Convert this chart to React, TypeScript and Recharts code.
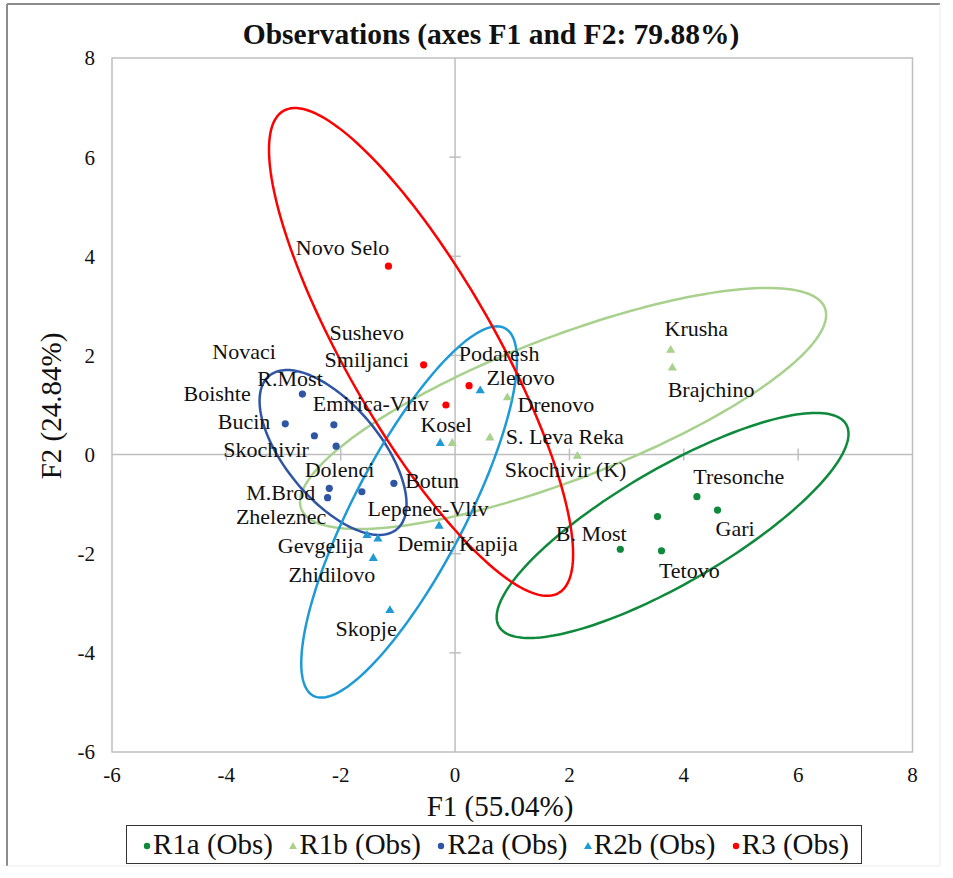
import React from 'react';
import { ScatterChart, Scatter, XAxis, YAxis, ReferenceLine, ReferenceArea } from 'recharts';

// ---------- data ----------
const X_TICKS = [-6, -4, -2, 0, 2, 4, 6, 8];
const Y_TICKS = [-6, -4, -2, 0, 2, 4, 6, 8];

const R1A = [
  { x: 4.23, y: -0.85 },
  { x: 4.59, y: -1.12 },
  { x: 3.54, y: -1.25 },
  { x: 2.89, y: -1.91 },
  { x: 3.61, y: -1.94 },
];
const R1B = [
  { x: 3.77, y: 2.12 },
  { x: 3.8, y: 1.76 },
  { x: 2.14, y: -0.02 },
  { x: 0.61, y: 0.35 },
  { x: 0.915, y: 1.16 },
  { x: -0.05, y: 0.24 },
];
const R2A = [
  { x: -2.67, y: 1.22 },
  { x: -2.97, y: 0.62 },
  { x: -2.12, y: 0.6 },
  { x: -2.46, y: 0.38 },
  { x: -2.08, y: 0.17 },
  { x: -2.2, y: -0.68 },
  { x: -2.23, y: -0.87 },
  { x: -1.63, y: -0.75 },
  { x: -1.07, y: -0.58 },
];
const R2B = [
  { x: 0.44, y: 1.3 },
  { x: -0.26, y: 0.24 },
  { x: -0.28, y: -1.43 },
  { x: -1.54, y: -1.62 },
  { x: -1.35, y: -1.69 },
  { x: -1.43, y: -2.08 },
  { x: -1.14, y: -3.13 },
];
const R3 = [
  { x: -1.165, y: 3.8 },
  { x: -0.55, y: 1.81 },
  { x: 0.245, y: 1.39 },
  { x: -0.16, y: 1.0 },
];

const OBS_LABELS = [
  { txt: 'Novo Selo', x: -1.967, y: 4.182 },
  { txt: 'Sushevo', x: -1.544, y: 2.459 },
  { txt: 'Smiljanci', x: -1.544, y: 1.908 },
  { txt: 'Novaci', x: -3.69, y: 2.076 },
  { txt: 'R.Most', x: -2.886, y: 1.525 },
  { txt: 'Boishte', x: -4.162, y: 1.223 },
  { txt: 'Emirica-Vliv', x: -1.473, y: 1.035 },
  { txt: 'Bucin', x: -3.69, y: 0.664 },
  { txt: 'Skochivir', x: -3.305, y: 0.107 },
  { txt: 'Dolenci', x: -2.02, y: -0.311 },
  { txt: 'Botun', x: -0.402, y: -0.533 },
  { txt: 'M.Brod', x: -3.047, y: -0.769 },
  { txt: 'Lepenec-Vliv', x: -0.472, y: -1.083 },
  { txt: 'Zheleznec', x: -3.043, y: -1.253 },
  { txt: 'Gevgelija', x: -2.352, y: -1.844 },
  { txt: 'Demir Kapija', x: 0.044, y: -1.789 },
  { txt: 'Zhidilovo', x: -2.156, y: -2.429 },
  { txt: 'Skopje', x: -1.556, y: -3.504 },
  { txt: 'Podaresh', x: 0.77, y: 2.044 },
  { txt: 'Zletovo', x: 1.146, y: 1.559 },
  { txt: 'Drenovo', x: 1.763, y: 1.015 },
  { txt: 'Kosel', x: -0.157, y: 0.597 },
  { txt: 'S. Leva Reka', x: 1.919, y: 0.361 },
  { txt: 'Skochivir (K)', x: 1.933, y: -0.311 },
  { txt: 'Krusha', x: 4.22, y: 2.548 },
  { txt: 'Brajchino', x: 4.477, y: 1.317 },
  { txt: 'Tresonche', x: 4.962, y: -0.446 },
  { txt: 'Gari', x: 4.897, y: -1.487 },
  { txt: 'B. Most', x: 2.382, y: -1.588 },
  { txt: 'Tetovo', x: 4.096, y: -2.342 },
];

// confidence ellipses: centre and two conjugate semi-diameter vectors (data units)
const ELL_R1A = { cx: 3.804, cy: -1.43, px: 3.036, py: 2.038, qx: 0.5, qy: -1.0 };
const ELL_R1B = { cx: 1.889, cy: 0.93, px: 4.579, py: 2.027, qx: 0.448, qy: -1.343 };
const ELL_R2A = { cx: -2.134, cy: 0.042, px: 1.116, py: -1.547, qx: 0.637, qy: 0.611 };
const ELL_R2B = { cx: -0.804, cy: -1.158, px: 1.674, py: 3.708, qx: 0.869, qy: -0.522 };
const ELL_R3 = { cx: -0.595, cy: 2.07, px: 2.405, py: -4.864, qx: 1.135, qy: 0.746 };

const SERIES_NAMES = ['R1a (Obs)', 'R1b (Obs)', 'R2a (Obs)', 'R2b (Obs)', 'R3 (Obs)'];

// ---------- styles ----------
const C_R1A = '#0f8a3c';
const C_R1B = '#a9d18e';
const C_R2A = '#2f55a4';
const C_R2B = '#1e9ad6';
const C_R3 = '#ff0000';
const GRID = '#bfbfbf';
const FONT = "'Liberation Serif', 'Times New Roman', Times, serif";

const SERIES_STYLE = [
  { color: C_R1A, marker: 'circle' },
  { color: C_R1B, marker: 'triangle' },
  { color: C_R2A, marker: 'circle' },
  { color: C_R2B, marker: 'triangle' },
  { color: C_R3, marker: 'circle' },
];

function ellipsePoints(e: { cx: number; cy: number; px: number; py: number; qx: number; qy: number }) {
  const pts: { x: number; y: number }[] = [];
  const n = 180;
  for (let i = 0; i <= n; i++) {
    const t = (2 * Math.PI * i) / n;
    pts.push({
      x: e.cx + e.px * Math.cos(t) + e.qx * Math.sin(t),
      y: e.cy + e.py * Math.cos(t) + e.qy * Math.sin(t),
    });
  }
  return pts;
}

const EmptyShape = () => <g />;

const circleShape = (color: string) => (props: any) =>
  <circle cx={props.cx} cy={props.cy} r={3.6} fill={color} />;

const triangleShape = (color: string) => (props: any) => {
  const { cx, cy } = props;
  const s = 4.6;
  return <polygon points={`${cx},${cy - s} ${cx + s},${cy + s * 0.7} ${cx - s},${cy + s * 0.7}`} fill={color} />;
};

const labelShape = (props: any) => {
  const txt = props.payload ? props.payload.txt : props.txt;
  return (
    <text x={props.cx} y={props.cy} dy="0.33em" textAnchor="middle" fontFamily={FONT} fontSize={22} fill="#111">
      {txt}
    </text>
  );
};

const LegendMarker = ({ color, marker }: { color: string; marker: string }) => (
  <svg width={11} height={12} style={{ marginRight: 1 }}>
    {marker === 'circle' ? (
      <circle cx={6} cy={7} r={3.2} fill={color} />
    ) : (
      <polygon points="6,3 10,10 2,10" fill={color} />
    )}
  </svg>
);

export default function App() {
  const tickStyle = { fontFamily: FONT, fontSize: 21, fill: '#111' };
  return (
    <div style={{ position: 'absolute', left: 0, top: 0, width: 953, height: 878, background: '#fff' }}>
      <ScatterChart width={953} height={878} margin={{ top: 58, right: 40.5, bottom: 86, left: 52 }}>
        <XAxis
          type="number"
          dataKey="x"
          domain={[-6, 8]}
          ticks={X_TICKS}
          allowDataOverflow
          axisLine={false}
          tickLine={false}
          tickMargin={9}
          height={40}
          tick={tickStyle}
          interval={0}
        />
        <YAxis
          type="number"
          dataKey="y"
          domain={[-6, 8]}
          ticks={Y_TICKS}
          allowDataOverflow
          axisLine={false}
          tickLine={false}
          tickMargin={11}
          width={60}
          tick={tickStyle}
          interval={0}
        />
        <ReferenceArea x1={-6} x2={8} y1={-6} y2={8} fill="none" fillOpacity={0} stroke={GRID} strokeWidth={1.5} />
        <ReferenceLine x={0} stroke={GRID} strokeWidth={1.5} />
        <ReferenceLine y={0} stroke={GRID} strokeWidth={1.5} />
        {Y_TICKS.filter((t) => t !== 0 && t !== -6 && t !== 8).map((t) => (
          <ReferenceLine key={'yt' + t} segment={[{ x: -0.1, y: t }, { x: 0.1, y: t }]} stroke={GRID} strokeWidth={1.5} />
        ))}
        {X_TICKS.filter((t) => t !== 0 && t !== -6 && t !== 8).map((t) => (
          <ReferenceLine key={'xt' + t} segment={[{ x: t, y: -0.12 }, { x: t, y: 0.12 }]} stroke={GRID} strokeWidth={1.5} />
        ))}

        <Scatter data={ellipsePoints(ELL_R1B)} line={{ stroke: C_R1B, strokeWidth: 2.5 }} lineType="joint" shape={EmptyShape} isAnimationActive={false} legendType="none" />
        <Scatter data={ellipsePoints(ELL_R1A)} line={{ stroke: C_R1A, strokeWidth: 2.5 }} lineType="joint" shape={EmptyShape} isAnimationActive={false} legendType="none" />
        <Scatter data={ellipsePoints(ELL_R2A)} line={{ stroke: C_R2A, strokeWidth: 2.5 }} lineType="joint" shape={EmptyShape} isAnimationActive={false} legendType="none" />
        <Scatter data={ellipsePoints(ELL_R2B)} line={{ stroke: C_R2B, strokeWidth: 2.5 }} lineType="joint" shape={EmptyShape} isAnimationActive={false} legendType="none" />
        <Scatter data={ellipsePoints(ELL_R3)} line={{ stroke: C_R3, strokeWidth: 2.5 }} lineType="joint" shape={EmptyShape} isAnimationActive={false} legendType="none" />

        <Scatter name={SERIES_NAMES[0]} data={R1A} shape={circleShape(C_R1A)} isAnimationActive={false} />
        <Scatter name={SERIES_NAMES[1]} data={R1B} shape={triangleShape(C_R1B)} isAnimationActive={false} />
        <Scatter name={SERIES_NAMES[2]} data={R2A} shape={circleShape(C_R2A)} isAnimationActive={false} />
        <Scatter name={SERIES_NAMES[3]} data={R2B} shape={triangleShape(C_R2B)} isAnimationActive={false} />
        <Scatter name={SERIES_NAMES[4]} data={R3} shape={circleShape(C_R3)} isAnimationActive={false} />

        <Scatter data={OBS_LABELS} shape={labelShape} isAnimationActive={false} legendType="none" />
      </ScatterChart>

      <svg width={953} height={878} style={{ position: 'absolute', left: 0, top: 0, pointerEvents: 'none' }}>
        <line x1={7} y1={4} x2={940} y2={4} stroke="#8c8c8c" strokeWidth={2} />
        <line x1={7} y1={4} x2={7} y2={866} stroke="#8c8c8c" strokeWidth={2} />
        <line x1={940} y1={4} x2={940} y2={866} stroke="#ececec" strokeWidth={1} />
        <line x1={7} y1={866} x2={940} y2={866} stroke="#ececec" strokeWidth={1} />
        <text x={491} y={44} textAnchor="middle" fontFamily={FONT} fontWeight="bold" fontSize={29.5} fill="#111">
          Observations (axes F1 and F2: 79.88%)
        </text>
        <text x={500} y={816} textAnchor="middle" fontFamily={FONT} fontSize={29} fill="#111">
          F1 (55.04%)
        </text>
        <text x={0} y={0} transform="translate(61,406) rotate(-90)" textAnchor="middle" fontFamily={FONT} fontSize={29} fill="#111">
          F2 (24.84%)
        </text>
      </svg>

      <div
        style={{
          position: 'absolute',
          left: 126,
          top: 825,
          width: 736,
          height: 39,
          boxSizing: 'border-box',
          border: '1.5px solid #333',
          display: 'flex',
          alignItems: 'center',
          justifyContent: 'space-between',
          padding: '0 12px 0 14px',
          fontFamily: FONT,
          fontSize: 29,
          color: '#111',
          background: '#fff',
        }}
      >
        {SERIES_NAMES.map((n, i) => (
          <span key={n} style={{ display: 'flex', alignItems: 'center', whiteSpace: 'nowrap' }}>
            <LegendMarker color={SERIES_STYLE[i].color} marker={SERIES_STYLE[i].marker} />
            {n}
          </span>
        ))}
      </div>
    </div>
  );
}
